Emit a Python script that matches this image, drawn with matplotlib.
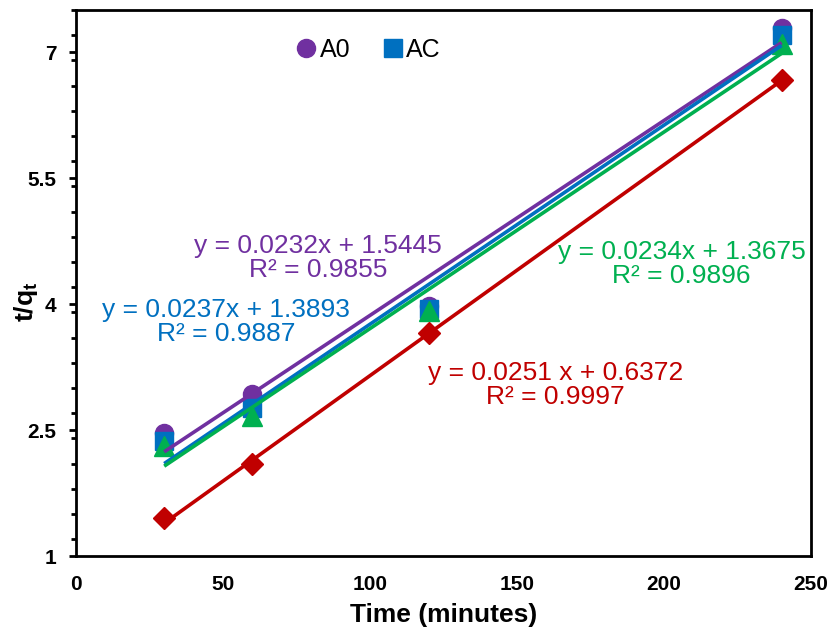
import matplotlib
matplotlib.use('Agg')
import matplotlib.pyplot as plt
from matplotlib.lines import Line2D
from matplotlib.ticker import MultipleLocator
import numpy as np

plt.rcParams['font.family'] = ['Liberation Sans', 'DejaVu Sans']
plt.rcParams['mathtext.fontset'] = 'custom'
plt.rcParams['mathtext.rm'] = 'Liberation Sans'
plt.rcParams['mathtext.bf'] = 'Liberation Sans:bold'

# time (minutes)
time = [30, 60, 120, 240]

# t/qt values
a0 = [2.47, 2.93, 3.98, 7.29]
ac = [2.37, 2.76, 3.94, 7.20]
green_vals = [2.31, 2.67, 3.92, 7.10]
red_vals = [1.45, 2.10, 3.66, 6.67]

# linear fits (slope, intercept) as printed on the chart
fit_a0 = (0.0232, 1.5445)
fit_ac = (0.0237, 1.3893)
fit_green = (0.0234, 1.3675)
fit_red = (0.0251, 0.6372)

PURPLE = '#7030A0'
BLUE = '#0070C0'
GREEN = '#00B050'
RED = '#C00000'

fig = plt.figure(figsize=(8.31, 6.33), dpi=100)
ax = fig.add_axes([76 / 831, 1 - 556 / 633, 735 / 831, 546 / 633])

ms = 13
ax.plot(time, a0, 'o', color=PURPLE, ms=ms, zorder=3)
ax.plot(time, ac, 's', color=BLUE, ms=ms, zorder=4)
ax.plot(time, green_vals, '^', color=GREEN, ms=ms + 1, zorder=5)
ax.plot(time, red_vals, 'D', color=RED, ms=ms - 2, zorder=5)

xf = np.array([30, 240])
for (m, b), c in [(fit_a0, PURPLE), (fit_ac, BLUE), (fit_green, GREEN), (fit_red, RED)]:
    ax.plot(xf, m * xf + b, '-', color=c, lw=2.6, zorder=6, solid_capstyle='butt')

fs = 19
ax.text(82.3, 4.55, 'y = 0.0232x + 1.5445\nR² = 0.9855', color=PURPLE,
        fontsize=fs, ha='center', va='center', linespacing=1.0)
ax.text(51, 3.78, 'y = 0.0237x + 1.3893\nR² = 0.9887', color=BLUE,
        fontsize=fs, ha='center', va='center', linespacing=1.0)
ax.text(206, 4.48, 'y = 0.0234x + 1.3675\nR² = 0.9896', color=GREEN,
        fontsize=fs, ha='center', va='center', linespacing=1.0)
ax.text(163, 3.03, 'y = 0.0251 x + 0.6372\nR² = 0.9997', color=RED,
        fontsize=fs, ha='center', va='center', linespacing=1.0)

ax.set_xlim(0, 250)
ax.set_ylim(1, 7.5)
ax.xaxis.set_major_locator(MultipleLocator(50))
ax.yaxis.set_minor_locator(MultipleLocator(0.3))
ax.set_yticks([1, 2.5, 4, 5.5, 7])
ax.set_yticklabels(['1', '2.5', '4', '5.5', '7'])

ax.tick_params(axis='x', length=0, pad=14, labelsize=15)
ax.tick_params(axis='y', which='major', direction='out', length=5, width=2,
               labelsize=15, pad=9)
ax.tick_params(axis='y', which='minor', direction='out', length=3.5, width=2)
for lab in ax.get_xticklabels() + ax.get_yticklabels():
    lab.set_fontweight('bold')

for sp in ax.spines.values():
    sp.set_linewidth(2)
    sp.set_color('black')

ax.set_xlabel('Time (minutes)', fontsize=19, fontweight='bold', labelpad=6)
ax.set_ylabel(r'$\mathbf{t/q_t}$', fontsize=19)
ax.yaxis.set_label_coords(-0.049, 0.465)

handles = [
    Line2D([], [], marker='o', ls='none', color=PURPLE, ms=13, label='A0'),
    Line2D([], [], marker='s', ls='none', color=BLUE, ms=13, label='AC'),
]
ax.legend(handles=handles, loc='upper left', bbox_to_anchor=(0.265, 0.99),
          ncol=2, frameon=False, fontsize=18, handletextpad=0.05,
          columnspacing=1.2, handlelength=1.0)

fig.savefig('out.png', dpi=100)
